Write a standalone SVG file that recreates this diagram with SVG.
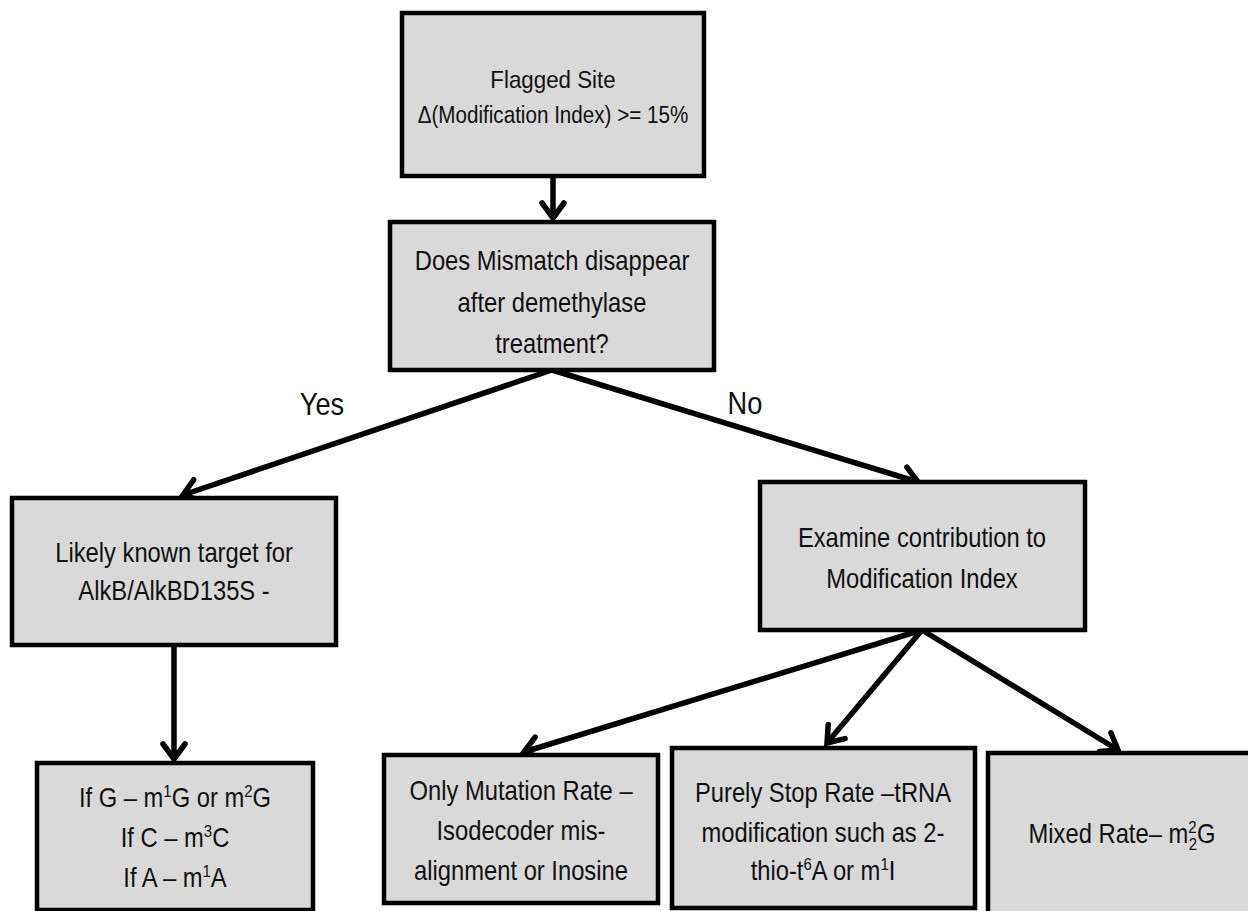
<svg xmlns="http://www.w3.org/2000/svg" width="1248" height="911" viewBox="0 0 1248 911">
<style>
.box{fill:#d9d9d9;stroke:#000;stroke-width:4.5}
.t{font-family:"Liberation Sans",Arial,sans-serif;font-size:27px;fill:#111;text-anchor:middle;transform-box:fill-box;transform-origin:center;transform:scaleX(0.88)}
.lbl{font-family:"Liberation Sans",Arial,sans-serif;font-size:32px;fill:#111;text-anchor:middle;transform-box:fill-box;transform-origin:center;transform:scaleX(0.85)}
.c{stroke:#000;stroke-width:5.5;fill:none}
</style>
<defs>
<marker id="ah" markerUnits="userSpaceOnUse" viewBox="-18 -15 22 30" markerWidth="22" markerHeight="30" refX="0" refY="0" orient="auto" overflow="visible">
<path d="M-15,-11 L0,0 L-15,11" fill="none" stroke="#000" stroke-width="5.5" stroke-linecap="round" stroke-linejoin="miter"/>
</marker>
</defs>
<rect width="1248" height="911" fill="#fff"/>
<g id="connectors">
<path class="c" d="M553,176 L553,218" marker-end="url(#ah)"/>
<path class="c" d="M552,370 L183,495" marker-end="url(#ah)"/>
<path class="c" d="M552,370 L918,482" marker-end="url(#ah)"/>
<path class="c" d="M174,645 L174,759" marker-end="url(#ah)"/>
<path class="c" d="M922,630 L524,752" marker-end="url(#ah)"/>
<path class="c" d="M922,630 L827,743" marker-end="url(#ah)"/>
<path class="c" d="M922,630 L1118,750" marker-end="url(#ah)"/>
<text class="lbl" x="322" y="415">Yes</text>
<text class="lbl" x="745" y="414">No</text>
</g>
<g id="flagged">
<rect class="box" x="402" y="13" width="302" height="163"/>
<text class="t" x="553" y="88" style="font-size:24px;transform:scaleX(0.93)">Flagged Site</text>
<text class="t" x="553" y="123" style="font-size:24px;transform:scaleX(0.86)">Δ(Modification Index) &gt;= 15%</text>
</g>
<g id="mismatch">
<rect class="box" x="390" y="222" width="324" height="148"/>
<text class="t" x="552" y="270">Does Mismatch disappear</text>
<text class="t" x="552" y="312">after demethylase</text>
<text class="t" x="552" y="353">treatment?</text>
</g>
<g id="likely">
<rect class="box" x="12" y="498" width="324" height="147"/>
<text class="t" x="174" y="562">Likely known target for</text>
<text class="t" x="174" y="600">AlkB/AlkBD135S -</text>
</g>
<g id="ifg">
<rect class="box" x="37" y="763" width="276" height="147"/>
<text class="t" x="175" y="807">If G – m<tspan dy="-10" font-size="17">1</tspan><tspan dy="10">G or m</tspan><tspan dy="-10" font-size="17">2</tspan><tspan dy="10">G</tspan></text>
<text class="t" x="175" y="847">If C – m<tspan dy="-10" font-size="17">3</tspan><tspan dy="10">C</tspan></text>
<text class="t" x="175" y="887">If A – m<tspan dy="-10" font-size="17">1</tspan><tspan dy="10">A</tspan></text>
</g>
<g id="examine">
<rect class="box" x="760" y="482" width="325" height="148"/>
<text class="t" x="922" y="547">Examine contribution to</text>
<text class="t" x="922" y="588">Modification Index</text>
</g>
<g id="mutation">
<rect class="box" x="384" y="755" width="274" height="148"/>
<text class="t" x="521" y="800">Only Mutation Rate –</text>
<text class="t" x="521" y="840">Isodecoder  mis-</text>
<text class="t" x="521" y="880">alignment or Inosine</text>
</g>
<g id="stop">
<rect class="box" x="672" y="748" width="303" height="160"/>
<text class="t" x="823" y="802">Purely Stop Rate –tRNA</text>
<text class="t" x="823" y="842">modification such as 2-</text>
<text class="t" x="823" y="880">thio-t<tspan dy="-10" font-size="17">6</tspan><tspan dy="10">A or m</tspan><tspan dy="-10" font-size="17">1</tspan><tspan dy="10">I</tspan></text>
</g>
<g id="mixed">
<rect class="box" x="988" y="753" width="300" height="200"/>
<text class="t" x="1122" y="843">Mixed Rate– m<tspan dy="-10" font-size="17">2</tspan><tspan dx="-9" dy="17" font-size="17">2</tspan><tspan dy="-7">G</tspan></text>
</g>
</svg>
